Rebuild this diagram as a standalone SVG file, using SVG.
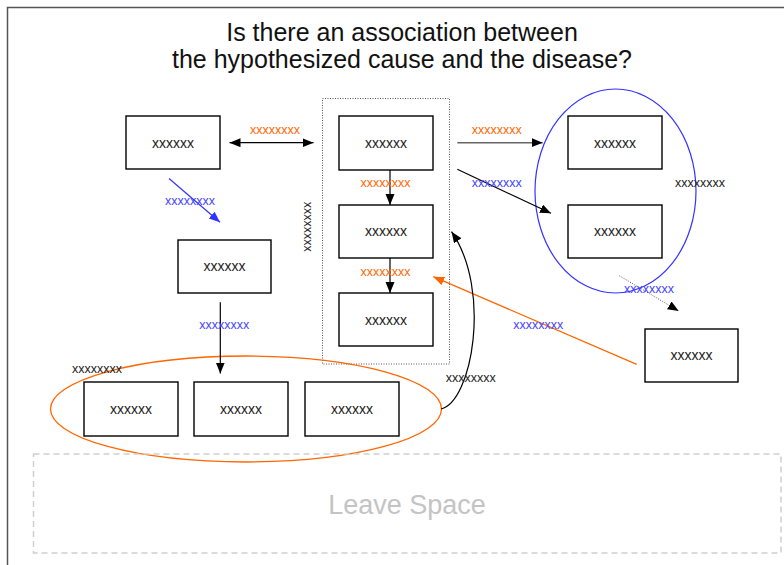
<svg xmlns="http://www.w3.org/2000/svg" width="784" height="565" viewBox="0 0 784 565">
<defs>
<marker id="ah" markerUnits="userSpaceOnUse" markerWidth="12" markerHeight="10" refX="11" refY="4.5" orient="auto-start-reverse"><path d="M0,0 L11,4.5 L0,9 z" fill="#000"/></marker>
<marker id="ahb" markerUnits="userSpaceOnUse" markerWidth="12" markerHeight="10" refX="11" refY="4.5" orient="auto"><path d="M0,0 L11,4.5 L0,9 z" fill="#3333ff"/></marker>
<marker id="aho" markerUnits="userSpaceOnUse" markerWidth="12" markerHeight="10" refX="11" refY="4.5" orient="auto"><path d="M0,0 L11,4.5 L0,9 z" fill="#ff6600"/></marker>
<style>
.box{fill:#fff;stroke:#000;stroke-width:1.4}
.bt{font-family:"Liberation Sans",Arial,sans-serif;font-size:14px;fill:#222;text-anchor:middle}
.lb{font-family:"Liberation Sans",Arial,sans-serif;font-size:12.5px;text-anchor:middle}
.or{fill:#ff6600}.bl{fill:#4444ff}.bk{fill:#222}
.ln{fill:none;stroke:#000;stroke-width:1.2}
</style>
</defs>
<rect x="7.5" y="7.5" width="800" height="600" fill="none" stroke="#555" stroke-width="1.5"/>
<text x="402" y="41" font-family="Liberation Sans,Arial,sans-serif" font-size="25" text-anchor="middle" fill="#111">Is there an association between</text>
<text x="402" y="68" font-family="Liberation Sans,Arial,sans-serif" font-size="25" text-anchor="middle" fill="#111">the hypothesized cause and the disease?</text>
<rect x="322.5" y="98.5" width="127" height="265.5" fill="none" stroke="#555" stroke-width="1" stroke-dasharray="1,1.5"/>
<ellipse cx="615.5" cy="191" rx="80.5" ry="102" fill="none" stroke="#3333ff" stroke-width="1.2"/>
<ellipse cx="246" cy="409" rx="195.5" ry="53" fill="none" stroke="#ff6600" stroke-width="1.3"/>
<rect x="33.5" y="454" width="747.5" height="99" fill="none" stroke="#cfcfcf" stroke-width="1.5" stroke-dasharray="6,4"/>
<text x="407" y="514" font-family="Liberation Sans,Arial,sans-serif" font-size="27" text-anchor="middle" fill="#c4c4c4">Leave Space</text>
<g id="nA"><rect class="box" x="126" y="116" width="94" height="53"/><text class="bt" x="173" y="147.5">xxxxxx</text></g>
<g id="nB"><rect class="box" x="339" y="116" width="94" height="54"/><text class="bt" x="386" y="147.5">xxxxxx</text></g>
<g id="nC"><rect class="box" x="339" y="205" width="94" height="53"/><text class="bt" x="386" y="236">xxxxxx</text></g>
<g id="nD"><rect class="box" x="339" y="293" width="94" height="53"/><text class="bt" x="386" y="324.5">xxxxxx</text></g>
<g id="nE"><rect class="box" x="178" y="240" width="93" height="53"/><text class="bt" x="224.5" y="271">xxxxxx</text></g>
<g id="nF"><rect class="box" x="84" y="382" width="94" height="54"/><text class="bt" x="131" y="413.5">xxxxxx</text></g>
<g id="nG"><rect class="box" x="194" y="382" width="94" height="54"/><text class="bt" x="241" y="413.5">xxxxxx</text></g>
<g id="nH"><rect class="box" x="305" y="382" width="94" height="54"/><text class="bt" x="352" y="413.5">xxxxxx</text></g>
<g id="nI"><rect class="box" x="568" y="116" width="94" height="53"/><text class="bt" x="615" y="147.5">xxxxxx</text></g>
<g id="nJ"><rect class="box" x="568" y="205" width="94" height="53"/><text class="bt" x="615" y="236">xxxxxx</text></g>
<g id="nK"><rect class="box" x="645" y="329" width="93" height="53"/><text class="bt" x="691.5" y="360">xxxxxx</text></g>
<g id="connectors">
<line class="ln" x1="229.5" y1="142.7" x2="313.5" y2="142.7" stroke="#444" marker-start="url(#ah)" marker-end="url(#ah)"/>
<line x1="169" y1="178.5" x2="220" y2="222.3" stroke="#3333ff" stroke-width="1.2" marker-end="url(#ahb)"/>
<line class="ln" x1="390" y1="170" x2="390" y2="205" stroke="#333"  marker-end="url(#ah)"/>
<line class="ln" x1="390" y1="258" x2="390" y2="293" stroke="#333" marker-end="url(#ah)"/>
<line class="ln" x1="220.3" y1="302.3" x2="220.3" y2="373.5" marker-end="url(#ah)"/>
<line x1="457.3" y1="142.7" x2="542.7" y2="142.7" stroke="#666" stroke-width="1.4" marker-end="url(#ah)"/>
<line class="ln" x1="457.3" y1="169.3" x2="551" y2="213.3" marker-end="url(#ah)"/>
<line x1="619.3" y1="275.7" x2="678.7" y2="311" stroke="#555" stroke-width="1" stroke-dasharray="1,1.5" marker-end="url(#ah)"/>
<line x1="636.7" y1="364.3" x2="433.3" y2="276.7" stroke="#ff6600" stroke-width="1.3" marker-end="url(#aho)"/>
<path class="ln" d="M441,409 C472,402 492,290 451.5,231.7" marker-end="url(#ah)"/>
</g>
<g id="labels">
<text class="lb or" x="275" y="133.5">xxxxxxxx</text>
<text class="lb bl" x="190" y="204.5">xxxxxxxx</text>
<text class="lb or" x="385.5" y="187">xxxxxxxx</text>
<text class="lb or" x="385.5" y="276">xxxxxxxx</text>
<text class="lb bk" x="308" y="226.7" transform="rotate(90 308 226.7)" dy="4">xxxxxxxx</text>
<text class="lb bl" x="224.3" y="328.5">xxxxxxxx</text>
<text class="lb or" x="496.7" y="133.5">xxxxxxxx</text>
<text class="lb bl" x="496.7" y="187">xxxxxxxx</text>
<text class="lb bk" x="700" y="187">xxxxxxxx</text>
<text class="lb bl" x="649" y="293">xxxxxxxx</text>
<text class="lb bl" x="538.3" y="328.5">xxxxxxxx</text>
<text class="lb bk" x="97" y="373">xxxxxxxx</text>
<text class="lb bk" x="470.7" y="382">xxxxxxxx</text>
</g>
</svg>
